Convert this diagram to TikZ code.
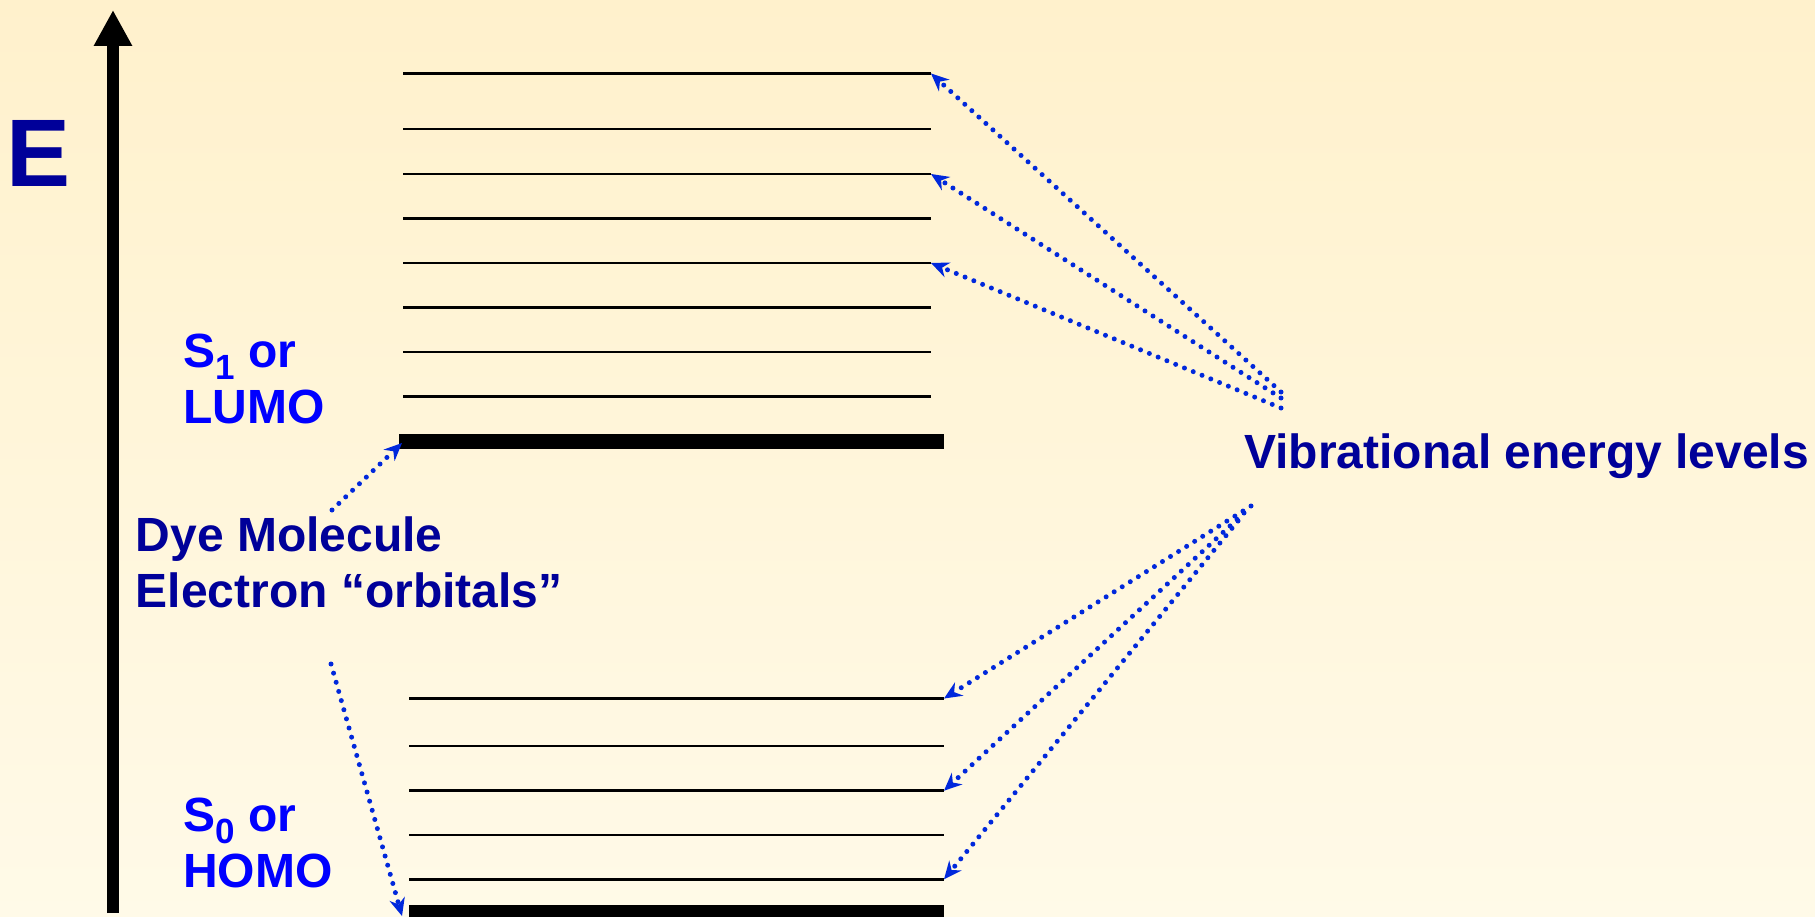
\documentclass[tikz,border=0pt]{standalone}
\usepackage{fontspec}
\setmainfont{Liberation Sans}
\usetikzlibrary{arrows.meta}
\definecolor{bgtop}{RGB}{255,241,204}
\definecolor{bgbot}{RGB}{255,250,232}
\definecolor{darkblue}{RGB}{0,0,153}
\definecolor{brightblue}{RGB}{0,0,255}
\definecolor{dotblue}{RGB}{0,40,220}
\begin{document}
\begin{tikzpicture}[x=1pt,y=-1pt,
  level/.style={line width=2.5pt,black},
  ground/.style={line width=15pt,black},
  dotarrow/.style={dotblue,line width=5pt,line cap=round,dash pattern=on 0pt off 9.5pt,
    -{Stealth[length=18pt,width=16pt,inset=6pt,line width=0pt]}},
  biglabel/.style={anchor=base west,inner sep=0pt,font=\fontsize{48}{55.5}\selectfont\bfseries,align=left},
]
\useasboundingbox (0,0) rectangle (1815,917);
\shade[top color=bgtop,bottom color=bgbot] (0,0) rectangle (1815,917);

% energy axis
\coordinate (axbot) at (113,913);
\coordinate (axtop) at (113,10);
\draw[line width=12pt,-{Triangle[length=36pt,width=36pt]}] (axbot) -- (axtop);
\node[anchor=base west,inner sep=0pt,text=darkblue,font=\fontsize{96}{96}\selectfont\bfseries] (E) at (6,187) {E};

% upper (S1) levels
\foreach \n/\y in {1/73.5,2/129,3/174,4/218.5,5/263,6/307.5,7/352,8/396.5}{
  \coordinate (uL\n) at (403,\y);
  \coordinate (uR\n) at (931,\y);
  \draw[level] (uL\n) -- (uR\n);
}
\coordinate (uGL) at (399,441);
\coordinate (uGR) at (944,441);
\draw[ground] (uGL) -- (uGR);

% lower (S0) levels
\foreach \n/\y in {1/698.5,2/746,3/790.7,4/835,5/879.3}{
  \coordinate (lL\n) at (409,\y);
  \coordinate (lR\n) at (944,\y);
  \draw[level] (lL\n) -- (lR\n);
}
\coordinate (lGL) at (409,912.5);
\coordinate (lGR) at (944,912.5);
\draw[ground] (lGL) -- (lGR);

% labels (base anchor = baseline of the last line)
\node[biglabel,text=brightblue] (S1) at (183,423) {S\raisebox{-12pt}{\fontsize{35}{35}\selectfont 1} or\\LUMO};
\node[biglabel,text=brightblue] (S0) at (183,887) {S\raisebox{-12pt}{\fontsize{35}{35}\selectfont 0} or\\HOMO};
\node[biglabel,text=darkblue] (dye) at (135.5,607) {Dye Molecule\\Electron “orbitals”};
\node[biglabel,text=darkblue] (vib) at (1244,468) {Vibrational energy levels};

% dotted arrows
\coordinate (s1) at (1281,392);
\coordinate (s2) at (1281,398);
\coordinate (s3) at (1281,408);
\draw[dotarrow] (s1) -- (uR1);
\draw[dotarrow] (s2) -- (uR3);
\draw[dotarrow] (s3) -- (uR5);
\coordinate (t1) at (1251,506);
\coordinate (t2) at (1244,513);
\coordinate (t3) at (1238,521);
\draw[dotarrow] (t1) -- (lR1);
\draw[dotarrow] (t2) -- (lR3);
\draw[dotarrow] (t3) -- (lR5);
\coordinate (d1) at (332,510);
\coordinate (d2) at (331,664);
\coordinate (dtip1) at (402,443);
\coordinate (dtip2) at (402,916);
\draw[dotarrow] (d1) -- (dtip1);
\draw[dotarrow] (d2) -- (dtip2);
\end{tikzpicture}
\end{document}
